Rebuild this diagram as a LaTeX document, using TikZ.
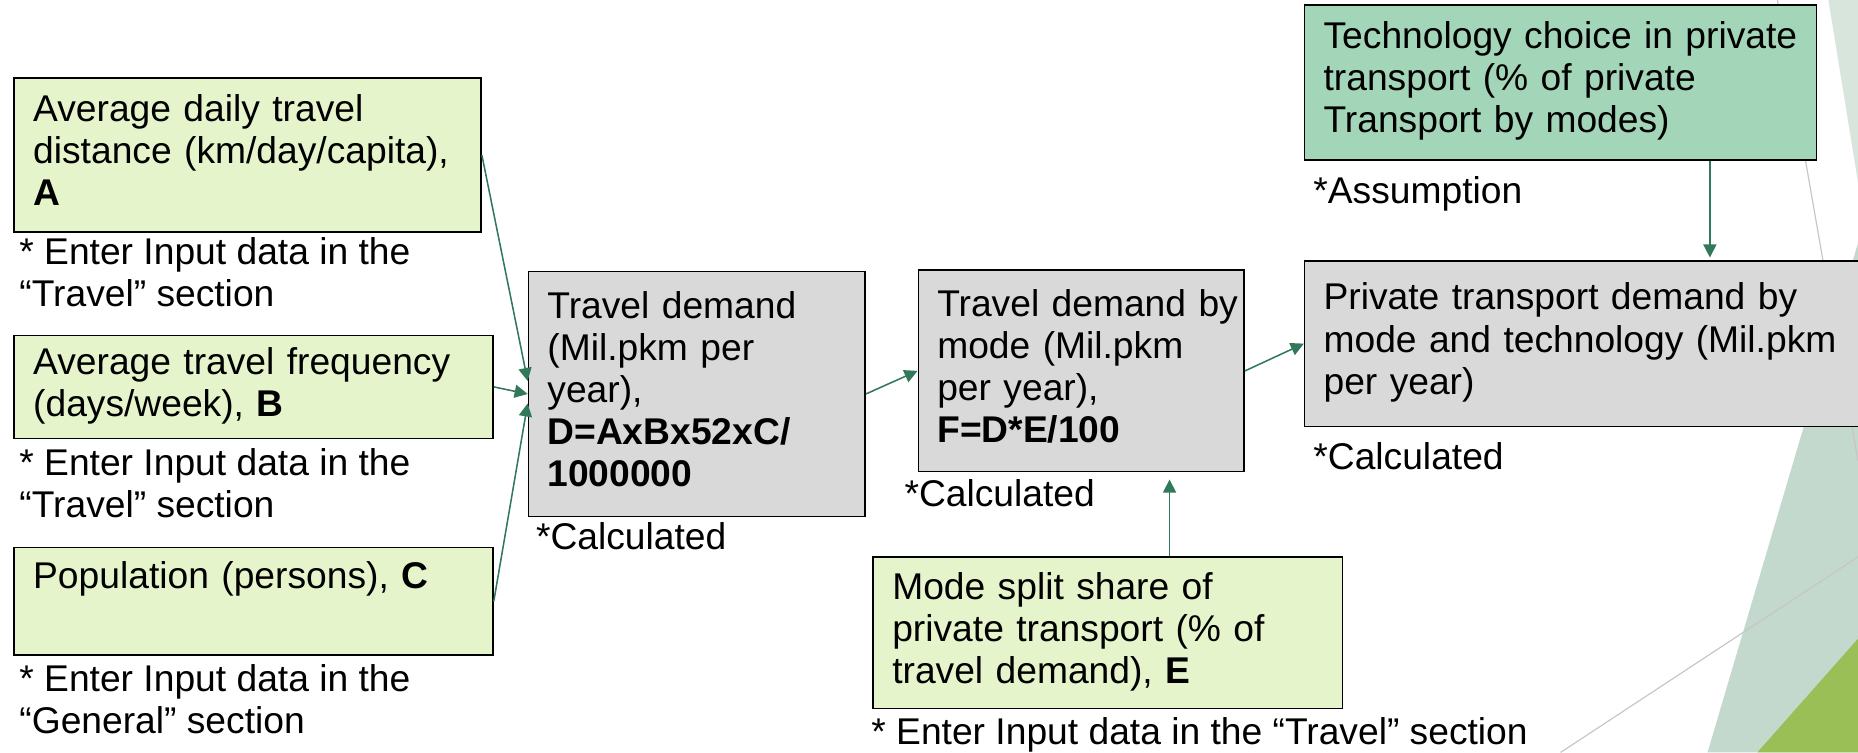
\documentclass[tikz,border=0pt]{standalone}
\usepackage{fontspec}
\setmainfont{Liberation Sans}
\usetikzlibrary{calc,arrows.meta}
\definecolor{inputgreen}{HTML}{E6F4CC}
\definecolor{calcgray}{HTML}{D9D9D9}
\definecolor{assumegreen}{HTML}{A3D5B8}
\definecolor{flowgreen}{HTML}{31795A}
\definecolor{palesage}{HTML}{D8E5DD}
\definecolor{sage}{HTML}{C4D9CE}
\definecolor{leaf}{HTML}{9BBF57}
\newcommand{\boxfont}{\fontsize{15.7}{17.8}\selectfont}

\begin{document}
\begin{tikzpicture}[x=0.5pt,y=-0.5pt,
	every node/.style={font=\boxfont},
	inbox/.style={draw,line width=0.7pt,fill=inputgreen,align=left,inner xsep=8pt,inner ysep=0pt,
		execute at begin node=\strut,execute at end node=\strut},
	calcbox/.style={inbox,fill=calcgray},
	asmbox/.style={inbox,fill=assumegreen},
	remark/.style={anchor=north west,align=left,inner sep=0pt},
	flow/.style={draw=flowgreen,line width=0.65pt,-{Triangle[length=5.5pt,width=5.5pt]}}]
\useasboundingbox (0,0) rectangle (1568,635);

%corner decoration
\fill[palesage] (1543,0) -- (1568,0) -- (1568,154) -- cycle;
\fill[sage] (1441,635) -- (1568,205) -- (1568,635) -- cycle;
\fill[leaf] (1483,635) -- (1568,539) -- (1568,635) -- cycle;
\draw[gray!45,line width=0.5pt] (1500,0) -- (1568,389);
\draw[gray!45,line width=0.5pt] (1317,635) -- (1568,470);

%input boxes
\node[inbox,text width=181pt,minimum height=65pt] (A) at (209,131) {Average daily travel\\distance (km/day/capita),\\\textbf{A}};
\node[inbox,text width=186pt,minimum height=43.5pt] (B) at (214,326.5) {Average travel frequency\\(days/week), \textbf{B}};
\node[inbox,text width=186pt,minimum height=45.5pt] (C) at (214,507.5) {Population (persons), \textbf{C}\\};
\node[inbox,text width=182pt,minimum height=64pt] (E) at (935,534) {Mode split share of\\private transport (\% of\\travel demand), \textbf{E}};
\node[asmbox,text width=200pt,minimum height=65.5pt] (T) at (1317,69.5) {\mbox{Technology choice in private}\\transport (\% of private\\Transport by modes)};

%calculated boxes
\node[calcbox,text width=126pt,minimum height=103.5pt] (D) at (588,332.5) {Travel demand\\(Mil.pkm per\\year),\\\textbf{D=AxBx52xC/}\\\textbf{1000000}};
\node[calcbox,text width=121.5pt,minimum height=85pt] (F) at (912.5,313) {\mbox{Travel demand by}\\mode (Mil.pkm\\per year),\\\textbf{F=D*E/100}};
\node[calcbox,text width=233.5pt,minimum height=70pt] (P) at (1350.5,290) {Private transport demand by\\mode and technology (Mil.pkm\\per year)};

%remarks under the boxes
\node[remark] (An) at (16,200) {* Enter Input data in the\\“Travel” section};
\node[remark] (Bn) at (16,378) {* Enter Input data in the\\“Travel” section};
\node[remark] (Cn) at (16,560) {* Enter Input data in the\\“General” section};
\node[remark] (Dn) at (452,441) {*Calculated};
\node[remark] (Fn) at (763,404) {*Calculated};
\node[remark] (En) at (735,605) {* Enter Input data in the “Travel” section};
\node[remark] (Tn) at (1108,149) {*Assumption};
\node[remark] (Pn) at (1108,373) {*Calculated};

\coordinate (eup) at (987,0);
\coordinate (tdown) at (1443,0);
%flows
\draw[flow] (A.east) -- ($(D.west)+(0,-11)$);
\draw[flow] (B.east) -- (D.west);
\draw[flow] (C.east) -- ($(D.west)+(0,8)$);
\draw[flow] (D.east) -- (F.west);
\draw[flow] (F.east) -- (P.west);
\draw[flow,shorten >=3pt] (E.north -| eup) -- (F.south -| eup);
\draw[flow,shorten >=1pt] (T.south -| tdown) -- (P.north -| tdown);
\end{tikzpicture}
\end{document}
